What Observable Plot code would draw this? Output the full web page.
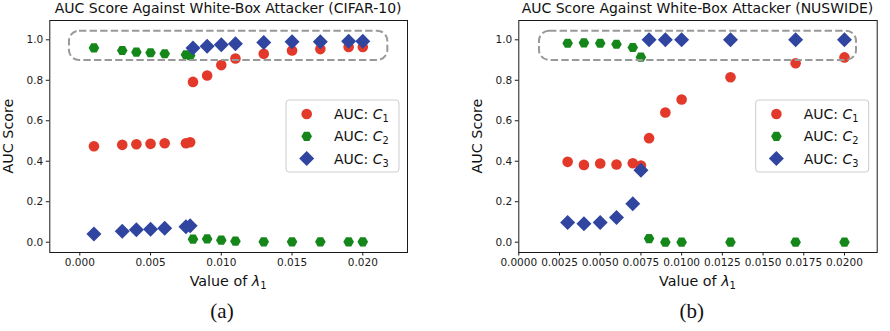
<!DOCTYPE html>
<html><head><meta charset="utf-8">
<script src="https://cdn.jsdelivr.net/npm/d3@7"></script>
<script src="https://cdn.jsdelivr.net/npm/@observablehq/plot@0.6"></script>
<style>
body{margin:0;background:#fff;}
#fig{position:relative;width:890px;height:331px;overflow:hidden;}
.panel{position:absolute;top:0;}
</style></head><body><div id="fig"></div>
<script>
// ---------- data ----------
const cifarLambda = [0.001,0.003,0.004,0.005,0.006,0.0075,0.0078,0.008,0.009,0.010,0.011,0.013,0.015,0.017,0.019,0.020];
const cifarC1 = [0.474,0.481,0.484,0.486,0.489,0.489,0.494,0.792,0.824,0.875,0.908,0.931,0.947,0.954,0.965,0.965];
const cifarC2 = [0.960,0.947,0.939,0.936,0.931,0.926,0.922,0.015,0.016,0.010,0.005,0.002,0.002,0.002,0.002,0.002];
const cifarC3 = [0.041,0.054,0.061,0.064,0.069,0.076,0.081,0.960,0.968,0.975,0.980,0.987,0.990,0.990,0.993,0.993];

const nusLambda = [0.003,0.004,0.005,0.006,0.007,0.0075,0.008,0.009,0.010,0.013,0.017,0.020];
const nusC1 = [0.397,0.382,0.389,0.384,0.390,0.379,0.514,0.641,0.705,0.815,0.884,0.913];
const nusC2 = [0.983,0.985,0.983,0.978,0.962,0.914,0.018,0.0,0.0,0.0,0.0,0.0];
const nusC3 = [0.097,0.091,0.097,0.122,0.190,0.356,1.0,1.0,1.0,1.0,1.0,1.0];

const cifarXTicks = [0,0.005,0.010,0.015,0.020];
const nusXTicks = [0,0.0025,0.005,0.0075,0.010,0.0125,0.015,0.0175,0.020];
const yTicks = [0,0.2,0.4,0.6,0.8,1.0];

const titles = ["AUC Score Against White-Box Attacker (CIFAR-10)","AUC Score Against White-Box Attacker (NUSWIDE)"];
const captions = ["(a)","(b)"];
const seriesNames = ["C1","C2","C3"];
// highlight boxes (data coords)
const cifarBox = [{x1:-0.00073,x2:0.02177,y1:0.898,y2:1.0425}];
const nusBox = [{x1:0.00127,x2:0.02074,y1:0.898,y2:1.0425}];

// ---------- styles ----------
const RED = "#e2392b", GREEN = "#15871a", BLUE = "#2f45a0";
const hexSym = {draw(ctx, size){ const R = Math.sqrt(size/Math.PI);
  for (let k=0;k<6;k++){ const a = Math.PI/3*k; const x=R*Math.cos(a), y=R*Math.sin(a); k?ctx.lineTo(x,y):ctx.moveTo(x,y);} ctx.closePath(); }};
const diaSym = {draw(ctx, size){ const R = Math.sqrt(size/Math.PI)*1.414;
  ctx.moveTo(0,-R); ctx.lineTo(R,0); ctx.lineTo(0,R); ctx.lineTo(-R,0); ctx.closePath(); }};
const circSym = {draw(ctx, size){ const R = Math.sqrt(size/Math.PI); ctx.moveTo(R,0); ctx.arc(0,0,R,0,2*Math.PI); }};
const colors = [RED, GREEN, BLUE];
const syms = [circSym, hexSym, diaSym];
const R0 = 5.3;

function panel(o){
  const rows = (vals, s) => o.lambda.map((l,i)=>({lambda:l, auc:vals[i], series:s}));
  const W = 445, H = 331, mT = 20, mB = 79;
  const svg = Plot.plot({
    width:W, height:H, marginTop:mT, marginBottom:mB, marginLeft:o.mLeft, marginRight:o.mRight,
    style:{fontFamily:"DejaVu Sans, sans-serif", fontSize:"10.5px", color:"#1a1a1a", background:"white", overflow:"visible"},
    x:{domain:o.xDomain}, y:{domain:[-0.0509,1.0954]},
    marks:[
      Plot.dot(rows(o.c1,seriesNames[0]), {x:"lambda", y:"auc", r:R0, fill:RED, symbol:circSym}),
      Plot.dot(rows(o.c2,seriesNames[1]), {x:"lambda", y:"auc", r:R0, fill:GREEN, symbol:hexSym}),
      Plot.dot(rows(o.c3,seriesNames[2]), {x:"lambda", y:"auc", r:R0, fill:BLUE, symbol:diaSym}),
      Plot.rect(o.box, {x1:"x1",x2:"x2",y1:"y1",y2:"y2", rx:10, ry:10, fill:"none", stroke:"#999", strokeWidth:2, strokeDasharray:"7.4,3.2"}),
      Plot.frame({stroke:"#1a1a1a", strokeWidth:1}),
      Plot.axisX({ticks:o.xTicks, tickFormat:d3.format(o.xFmt), tickSize:3.5, tickPadding:3, label:null}),
      Plot.axisY({ticks:yTicks, tickFormat:d3.format(".1f"), tickSize:3.5, tickPadding:3, label:null})
    ]
  });
  const s = d3.select(svg);
  const cx = o.mLeft + (W - o.mLeft - o.mRight)/2;
  const cy = mT + (H - mT - mB)/2;
  s.append("text").attr("x", cx).attr("y", 13).attr("text-anchor","middle")
    .attr("font-family","DejaVu Sans").attr("font-size",14).attr("fill","#111").text(o.title);
  const xl = s.append("text").attr("x", cx).attr("y", 285.5).attr("text-anchor","middle")
    .attr("font-family","DejaVu Sans").attr("font-size",14.3).attr("fill","#111");
  xl.append("tspan").text("Value of ");
  xl.append("tspan").attr("font-style","italic").text("λ");
  xl.append("tspan").attr("font-size","70%").attr("dy","0.3em").text("1");
  s.append("text").attr("transform",`translate(${o.ylabX},${cy}) rotate(-90)`).attr("text-anchor","middle")
    .attr("font-family","DejaVu Sans").attr("font-size",14.3).attr("fill","#111").text("AUC Score");
  // legend
  const g = s.append("g").attr("transform",`translate(${o.legX},100)`);
  g.append("rect").attr("x",0).attr("y",0).attr("width",113).attr("height",72).attr("rx",3)
    .attr("fill","white").attr("fill-opacity",0.8).attr("stroke","#cccccc").attr("stroke-width",1);
  [0,1,2].forEach(i=>{
    const yy = 14 + i*22.3;
    g.append("path").attr("d", d3.symbol(syms[i], Math.PI*R0*R0)()).attr("transform",`translate(20.7,${yy})`).attr("fill",colors[i]);
    const t = g.append("text").attr("x",48).attr("y",yy+5).attr("text-anchor","start")
      .attr("font-family","DejaVu Sans").attr("font-size",14).attr("fill","#111");
    t.append("tspan").text("AUC: ");
    t.append("tspan").attr("font-style","italic").text("C");
    t.append("tspan").attr("font-size","70%").attr("dy","0.3em").text(String(i+1));
  });
  s.append("text").attr("x", o.capX).attr("y", 318).attr("text-anchor","middle")
    .attr("font-family","Liberation Serif, serif").attr("font-size",21).attr("fill","#111").text(o.caption);
  return svg;
}

const fig = document.getElementById("fig");
const left = panel({lambda:cifarLambda, c1:cifarC1, c2:cifarC2, c3:cifarC3, title:titles[0], caption:captions[0],
  xDomain:[-0.00212,0.02316], xTicks:cifarXTicks, xFmt:".3f", box:cifarBox, mLeft:49.3, mRight:38, legX:286, ylabX:13, capX:222});
const right = panel({lambda:nusLambda, c1:nusC1, c2:nusC2, c3:nusC3, title:titles[1], caption:captions[1],
  xDomain:[0,0.02201], xTicks:nusXTicks, xFmt:".4f", box:nusBox, mLeft:73.3, mRight:13.3, legX:310.7, ylabX:37, capX:246.7});
const d1 = document.createElement("div"); d1.className="panel"; d1.style.left="0px"; d1.appendChild(left);
const d2 = document.createElement("div"); d2.className="panel"; d2.style.left="445px"; d2.appendChild(right);
fig.appendChild(d1); fig.appendChild(d2);
</script></body></html>
